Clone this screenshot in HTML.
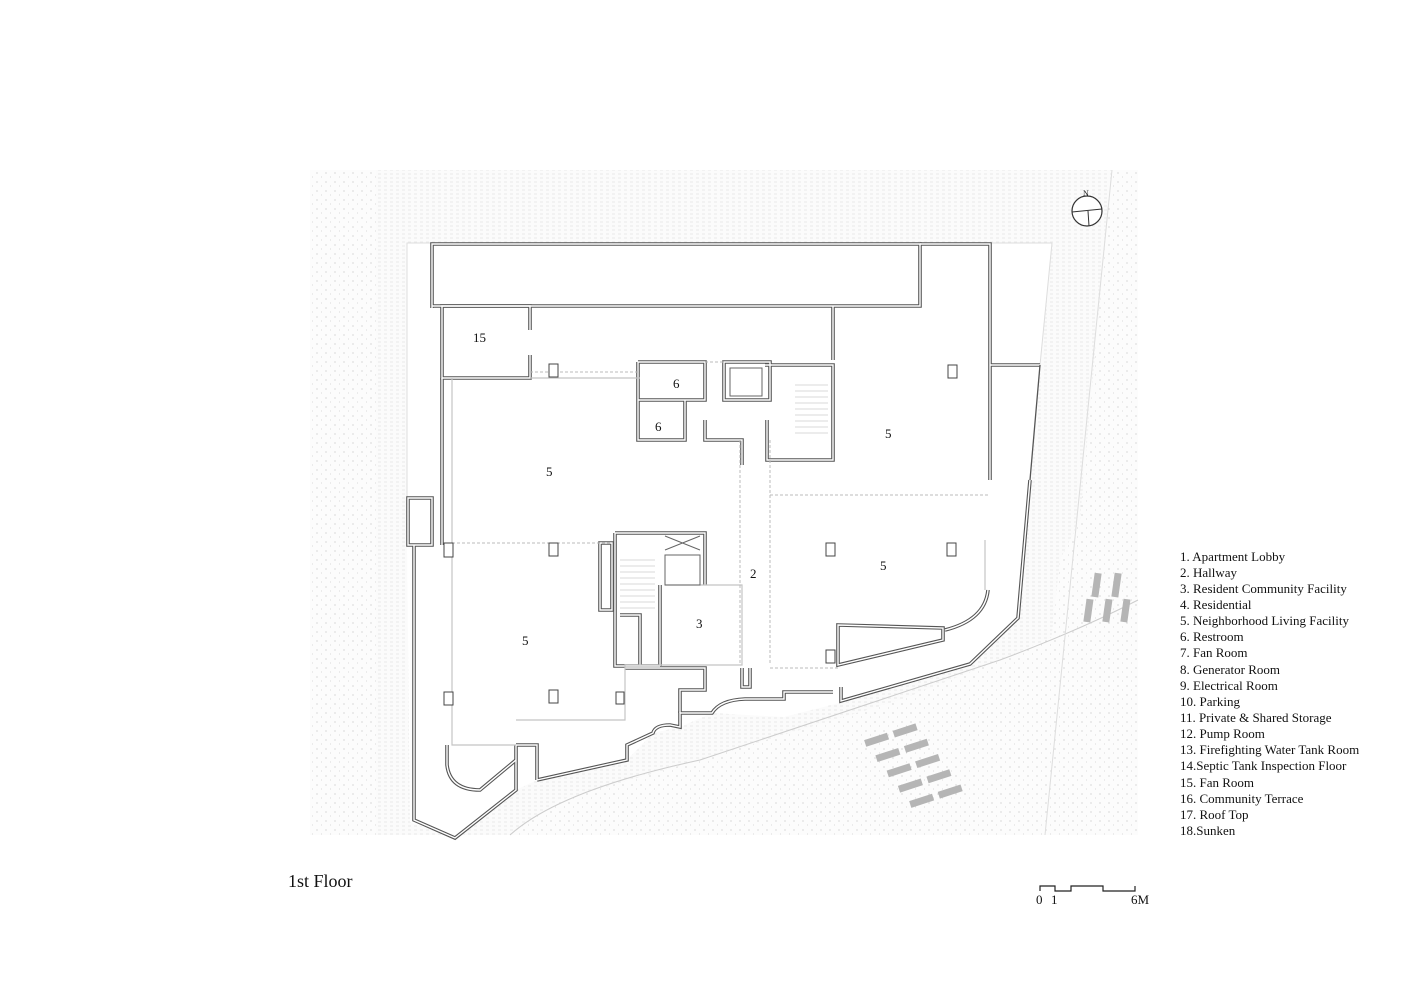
<!DOCTYPE html>
<html><head><meta charset="utf-8"><style>
html,body{margin:0;padding:0;background:#fff;}
svg{display:block;}
text{font-family:"Liberation Serif",serif;fill:#111;}
</style></head><body>
<svg width="1414" height="1000" viewBox="0 0 1414 1000" xmlns="http://www.w3.org/2000/svg">
<defs>
<pattern id="dots" width="9" height="9" patternUnits="userSpaceOnUse">
<rect width="9" height="9" fill="#fcfcfc"/>
<circle cx="2" cy="2" r="0.6" fill="#c2c2c2"/><circle cx="6.5" cy="6" r="0.5" fill="#cfcfcf"/>
</pattern>
<pattern id="hatch" width="6" height="4" patternUnits="userSpaceOnUse">
<rect width="6" height="4" fill="#fbfbfb"/>
<line x1="0" y1="2" x2="3" y2="2" stroke="#e6e6e6" stroke-width="0.8"/>
</pattern>
<g id="walls">
<path d="M432,308 L432,244 L920,244 L920,306 L432,306"/>
<path d="M920,244 L990,244 L990,365"/>
<path d="M833,306 L833,360 M990,365 L1040,365"/>
<path d="M530,330 L530,306 L442,306 L442,378 L530,378 L530,355"/>
<path d="M442,378 L442,545"/>
<path d="M638,362 L705,362 L705,400 L638,400 M638,362 L638,440 L685,440 L685,400 M705,420 L705,440 L742,440 L742,465"/>
<path d="M724,362 L770,362 L770,400 L724,400 Z"/>
<path d="M765,365 L833,365 L833,460 L767,460 L767,420"/>
<path d="M990,365 L990,480"/>
<path d="M615,533 L705,533 L705,585 M615,533 L615,666 L660,666 M660,585 L660,666"/>
<path d="M600,543 L612,543 L612,610 L600,610 Z"/>
<path d="M620,615 L640,615 L640,666"/>
<path d="M414,545 L414,820 L455,838 L516,790 L516,745"/>
<path d="M408,498 L432,498 L432,545 L408,545 Z"/>
<path d="M1030,480 L1018,618 L970,664 L841,701 L841,687"/>
<path d="M838,625 L943,628 L943,640 L838,665 Z"/>
<path d="M945,630 Q985,620 988,590"/>
<path d="M447,745 L447,765 Q450,790 480,790 L516,760"/>
<path d="M537,780 L537,745 L516,745 M537,780 L627,760 L627,745 L653,733 Q655,725 670,725 L680,727 L680,713 L712,713 Q720,700 745,699 L784,699 L784,692 L833,692"/>
<path d="M625,668 L705,668 L705,690 L680,690 L680,713"/>
<path d="M742,668 L742,687 L750,687 L750,668"/>
</g>
</defs>

<rect x="310" y="170" width="828" height="665" fill="url(#hatch)"/>
<rect x="310" y="170" width="66" height="665" fill="url(#dots)"/>
<polygon points="1112,170 1138,170 1138,835 1030,835 1060,560 1080,520" fill="url(#dots)"/>
<polygon points="510,835 560,800 700,760 900,700 1000,660 1138,600 1138,835" fill="url(#dots)"/>
<path d="M510,835 Q560,790 700,760 L1000,660 Q1080,630 1138,600" fill="none" stroke="#ccc" stroke-width="1"/>
<line x1="1112" y1="170" x2="1045" y2="835" stroke="#ddd" stroke-width="1"/>

<polygon points="407,243 1052,243 1040,365 1030,480 1018,618 970,664 841,701 839,703 784,717 712,713 680,727 653,733 627,760 537,780 516,790 455,838 410,822 407,545" fill="#fff"/>
<polyline points="407,545 407,243 1052,243 1040,365" fill="none" stroke="#ddd" stroke-width="1"/>

<use href="#walls" fill="none" stroke="#555" stroke-width="3.6" stroke-linejoin="miter"/>
<use href="#walls" fill="none" stroke="#fff" stroke-width="1.4" stroke-linejoin="miter"/>
<line x1="1040" y1="365" x2="1030" y2="480" stroke="#555" stroke-width="1.3"/>

<g fill="none" stroke="#c4c4c4" stroke-width="1.2">
<path d="M452,378 L452,745 L516,745"/>
<path d="M530,378 L640,378"/>
<path d="M665,585 L742,585 L742,665 L625,665 L625,720 L516,720"/>
<path d="M985,540 L985,590"/>
</g>
<g fill="none" stroke="#bbb" stroke-width="1" stroke-dasharray="3,2">
<path d="M740,440 L740,665 M770,440 L770,665"/>
<path d="M452,543 L612,543"/>
<path d="M770,495 L990,495"/>
<path d="M530,372 L640,372 M705,362 L724,362"/>
<path d="M770,668 L840,668"/>
</g>

<g stroke="#ccc" stroke-width="0.8">
<line x1="620" y1="560" x2="655" y2="560"/><line x1="620" y1="566" x2="655" y2="566"/><line x1="620" y1="572" x2="655" y2="572"/><line x1="620" y1="578" x2="655" y2="578"/><line x1="620" y1="584" x2="655" y2="584"/><line x1="620" y1="590" x2="655" y2="590"/><line x1="620" y1="596" x2="655" y2="596"/><line x1="620" y1="602" x2="655" y2="602"/><line x1="620" y1="608" x2="655" y2="608"/>
<line x1="795" y1="385" x2="828" y2="385"/><line x1="795" y1="391" x2="828" y2="391"/><line x1="795" y1="397" x2="828" y2="397"/><line x1="795" y1="403" x2="828" y2="403"/><line x1="795" y1="409" x2="828" y2="409"/><line x1="795" y1="415" x2="828" y2="415"/><line x1="795" y1="421" x2="828" y2="421"/><line x1="795" y1="427" x2="828" y2="427"/><line x1="795" y1="433" x2="828" y2="433"/>
</g>
<g fill="none" stroke="#666" stroke-width="1">
<rect x="665" y="555" width="35" height="30"/>
<path d="M665,536 L700,550 M700,536 L665,550"/>
<rect x="730" y="368" width="32" height="28"/>
</g>

<g fill="#fff" stroke="#444" stroke-width="1">
<rect x="549" y="364" width="9" height="13"/><rect x="948" y="365" width="9" height="13"/>
<rect x="549" y="543" width="9" height="13"/><rect x="444" y="543" width="9" height="14"/>
<rect x="826" y="543" width="9" height="13"/><rect x="947" y="543" width="9" height="13"/>
<rect x="549" y="690" width="9" height="13"/><rect x="444" y="692" width="9" height="13"/>
<rect x="616" y="692" width="8" height="12"/><rect x="826" y="650" width="9" height="13"/>
</g>

<g fill="#b5b5b5">
<rect x="1093" y="573" width="7" height="24" transform="rotate(8 1096 585)"/>
<rect x="1113" y="573" width="7" height="24" transform="rotate(8 1116 585)"/>
<rect x="1085" y="599" width="7" height="23" transform="rotate(8 1088 610)"/>
<rect x="1104" y="599" width="7" height="23" transform="rotate(8 1107 610)"/>
<rect x="1122" y="599" width="7" height="23" transform="rotate(8 1125 610)"/>
<g transform="rotate(-18 900 760)">
<rect x="872" y="730" width="24" height="7"/><rect x="902" y="730" width="24" height="7"/>
<rect x="878" y="748" width="24" height="7"/><rect x="908" y="748" width="24" height="7"/>
<rect x="884" y="766" width="24" height="7"/><rect x="914" y="766" width="24" height="7"/>
<rect x="890" y="784" width="24" height="7"/><rect x="920" y="784" width="24" height="7"/>
<rect x="896" y="802" width="24" height="7"/><rect x="926" y="802" width="24" height="7"/>
</g>
</g>

<circle cx="1087" cy="211" r="15" fill="#fff" stroke="#333" stroke-width="1.2"/>
<path d="M1072,212 L1102,209 M1088,211 L1089,226" stroke="#333" stroke-width="1"/>
<text x="1083" y="196" font-size="8">N</text>

<g font-size="13">
<text x="473" y="342">15</text>
<text x="673" y="388">6</text>
<text x="655" y="431">6</text>
<text x="546" y="476">5</text>
<text x="885" y="438">5</text>
<text x="750" y="578">2</text>
<text x="880" y="570">5</text>
<text x="522" y="645">5</text>
<text x="696" y="628">3</text>
</g>

<g font-size="13">
<text x="1180" y="561">1. Apartment Lobby</text>
<text x="1180" y="577">2. Hallway</text>
<text x="1180" y="593">3. Resident Community Facility</text>
<text x="1180" y="609">4. Residential</text>
<text x="1180" y="625">5. Neighborhood Living Facility</text>
<text x="1180" y="641">6. Restroom</text>
<text x="1180" y="657">7. Fan Room</text>
<text x="1180" y="674">8. Generator Room</text>
<text x="1180" y="690">9. Electrical Room</text>
<text x="1180" y="706">10. Parking</text>
<text x="1180" y="722">11. Private &amp; Shared Storage</text>
<text x="1180" y="738">12. Pump Room</text>
<text x="1180" y="754">13. Firefighting Water Tank Room</text>
<text x="1180" y="770">14.Septic Tank Inspection Floor</text>
<text x="1180" y="787">15. Fan Room</text>
<text x="1180" y="803">16. Community Terrace</text>
<text x="1180" y="819">17. Roof Top</text>
<text x="1180" y="835">18.Sunken</text>
</g>

<text x="288" y="887" font-size="18">1st Floor</text>

<path d="M1040,891 L1040,886 L1055,886 L1055,891 L1071,891 L1071,886 L1103,886 L1103,891 L1135,891 L1135,886" fill="none" stroke="#222" stroke-width="1.2"/>
<text x="1036" y="904" font-size="13">0</text>
<text x="1051" y="904" font-size="13">1</text>
<text x="1131" y="904" font-size="13">6M</text>
</svg>
</body></html>
